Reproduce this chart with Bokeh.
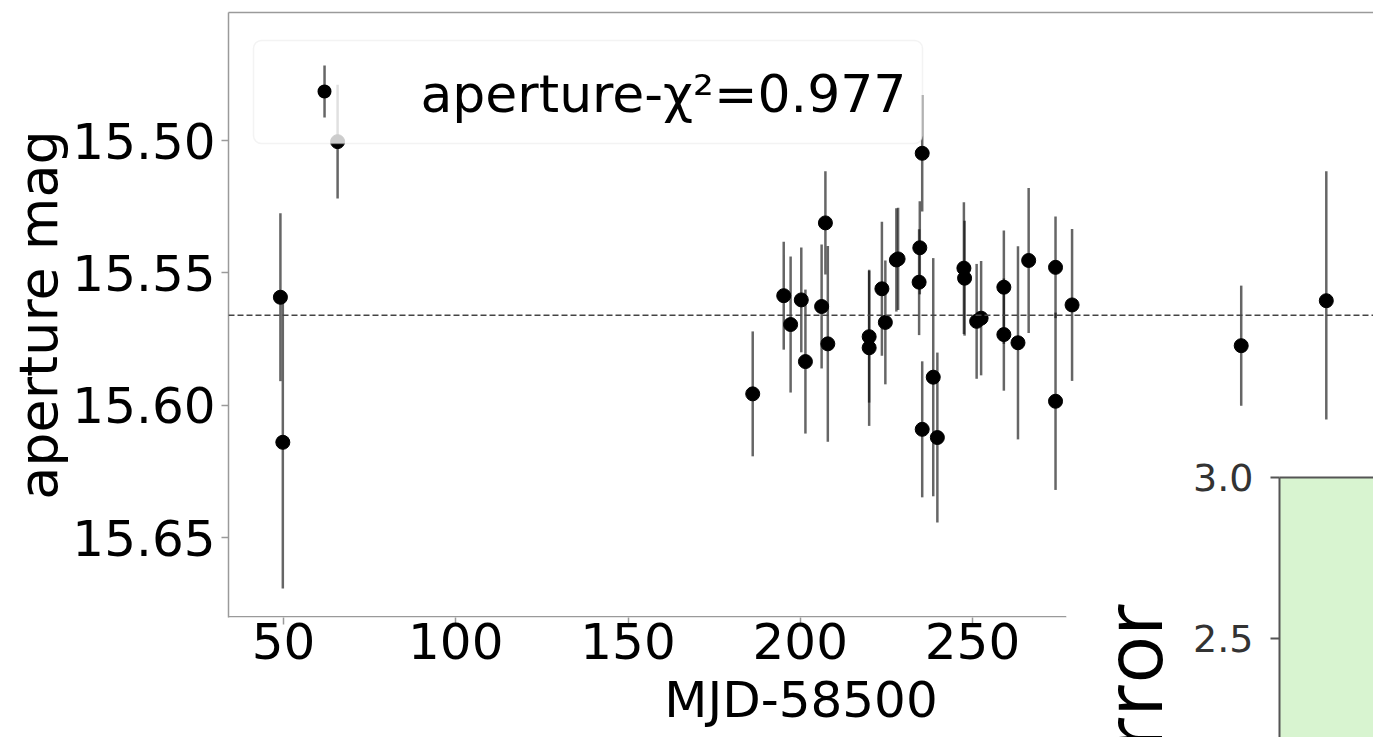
import math
from bokeh.plotting import figure
from bokeh.layouts import column
from bokeh.models import (ColumnDataSource, Range1d, FixedTicker, Span, BoxAnnotation,
                          Label, LinearAxis, PrintfTickFormatter)
from bokeh.embed import file_html
from bokeh.resources import INLINE

# ---------------- data ----------------
mjd = [49.1, 49.8, 65.7, 186.2, 195.2, 197.2, 200.3, 201.5, 206.2, 207.3,
       208.0, 220.0, 220.0, 223.7, 224.7, 227.9, 228.4, 235.4, 234.7, 234.5,
       235.4, 238.6, 239.8, 247.5, 247.7, 251.2, 252.5, 259.1, 259.1, 263.2,
       266.3, 274.1, 274.1, 278.9, 328.0, 352.7]
mag = [15.5592, 15.6140, 15.5004, 15.5957, 15.5586, 15.5695, 15.5602, 15.5835, 15.5627, 15.5311,
       15.5768, 15.5741, 15.5783, 15.5560, 15.5687, 15.5451, 15.5447, 15.5048, 15.5405, 15.5535,
       15.6091, 15.5894, 15.6122, 15.5482, 15.5520, 15.5683, 15.5671, 15.5554, 15.5733, 15.5764,
       15.5453, 15.5479, 15.5985, 15.5621, 15.5775, 15.5605]
mag_err = [0.0317, 0.0552, 0.0215, 0.0236, 0.0204, 0.0257, 0.0198, 0.0272, 0.0234, 0.0195,
           0.0370, 0.0249, 0.0295, 0.0253, 0.0234, 0.0195, 0.0193, 0.0220, 0.0176, 0.0200,
           0.0257, 0.0450, 0.0321, 0.0249, 0.0217, 0.0217, 0.0216, 0.0214, 0.0212, 0.0365,
           0.0274, 0.0192, 0.0335, 0.0287, 0.0227, 0.0489]
mean_mag = 15.566
legend_label = "aperture-\u03c7\u00b2=0.977"
x_ticks = [50, 100, 150, 200, 250]
y_ticks = [15.50, 15.55, 15.60, 15.65]
x_title = "MJD-58500"
y_title = "aperture mag"
inset_title = "error"
inset_ticks = [2.5, 3.0]

# ---------------- main figure ----------------
FONT = "DejaVu Sans"
SPINE = "#9a9a9a"

p = figure(width=1373, height=737,
           x_range=Range1d(34.03, 366.40), y_range=Range1d(15.6802, 15.4516),
           output_backend="svg", toolbar_location=None,
           min_border_left=228, min_border_right=0, min_border_top=12, min_border_bottom=120)
p.outline_line_color = None
p.xgrid.visible = False
p.ygrid.visible = False
p.background_fill_color = "white"
p.border_fill_color = "white"

for ax in (p.xaxis[0], p.yaxis[0]):
    ax.axis_line_color = SPINE
    ax.axis_line_width = 1.5
    ax.major_tick_line_color = SPINE
    ax.major_tick_line_width = 1.5
    ax.major_tick_out = 7
    ax.major_tick_in = 0
    ax.minor_tick_line_color = None
    ax.major_label_text_font = FONT
    ax.major_label_text_color = "black"
    ax.axis_label_text_font = FONT
    ax.axis_label_text_font_style = "normal"
    ax.axis_label_text_color = "black"

p.xaxis.ticker = FixedTicker(ticks=x_ticks)
p.xaxis.axis_line_color = None          # bottom spine drawn below, stopping at the inset
p.xaxis.major_label_text_font_size = "50px"
p.xaxis.major_label_standoff = -2
p.xaxis.axis_label = x_title
p.xaxis.axis_label_text_font_size = "50px"
p.xaxis.axis_label_standoff = 9

p.yaxis.ticker = FixedTicker(ticks=y_ticks)
p.yaxis.formatter = PrintfTickFormatter(format="%.2f")
p.yaxis.major_label_text_font_size = "50px"
p.yaxis.major_label_standoff = 6
p.yaxis.axis_label = y_title
p.yaxis.axis_label_text_font_size = "54px"
p.yaxis.axis_label_standoff = -1

top_axis = LinearAxis(ticker=FixedTicker(ticks=[]), major_label_text_font_size="0px",
                      major_tick_out=0, major_tick_in=0, minor_tick_out=0, minor_tick_in=0,
                      major_label_standoff=0, axis_line_color=SPINE, axis_line_width=1.5)
p.add_layout(top_axis, "above")

# ---------------- data marks ----------------
src = ColumnDataSource(dict(
    x=mjd, y=mag,
    lo=[m - e for m, e in zip(mag, mag_err)],
    hi=[m + e for m, e in zip(mag, mag_err)],
))
p.segment(x0="x", y0="lo", x1="x", y1="hi", source=src,
          line_color="black", line_alpha=0.6, line_width=2.5)
p.scatter(x="x", y="y", source=src, size=14, fill_color="black", line_color="black")

p.add_layout(Span(location=mean_mag, dimension="width", line_color="#444444",
                  line_width=1.5, line_dash="6 3"))

# screen helpers (frame origin bottom-left: page x 228, page y 617)
def sx(px):
    return px - 228

def sy(py):
    return 617 - py

def sbox(l, r, t, b, **kw):
    return BoxAnnotation(left=sx(l), right=sx(r), top=sy(t), bottom=sy(b),
                         left_units="screen", right_units="screen",
                         top_units="screen", bottom_units="screen", **kw)

# bottom spine, up to where the inset panel hides it
p.add_layout(sbox(227, 1066, 615.5, 617, fill_color=SPINE, fill_alpha=1.0, line_color=None))

# ---------------- legend (drawn by hand: errorbar handle) ----------------
p.add_layout(sbox(253, 922, 40, 143, fill_color="white", fill_alpha=0.8,
                  line_color="#d6d6d6", line_width=1.5, border_radius=8))
p.add_layout(sbox(322.8, 325.3, 65, 117, fill_color="black", fill_alpha=0.6, line_color=None))
p.add_layout(sbox(317, 331, 84, 98, fill_color="black", fill_alpha=1.0, line_color=None,
                  border_radius=7))
p.add_layout(Label(x=sx(420), y=sy(93), x_units="screen", y_units="screen",
                   text=legend_label, text_font=FONT, text_font_size="52px",
                   text_color="black", text_baseline="middle", text_align="left"))

# white backing of the inset panel, inside the main frame
p.add_layout(sbox(1066, 1373, 419, 617, fill_color="white", fill_alpha=1.0, line_color=None,
                  level="overlay"))

# ---------------- inset panel (partly visible, lower right) ----------------
# left border equals the main figure's (228 px) so the column does not re-align the frames
inset_h_px = 442                             # frame height (figure height 500 - top border 58)
inset_scale = 161 / 0.5                      # px per unit of the inset axis
inset = figure(width=322, height=500,
               x_range=Range1d(0, 1),
               y_range=Range1d(3.0 - inset_h_px / inset_scale, 3.0),
               x_axis_location=None, toolbar_location=None, output_backend="svg",
               min_border_left=228, min_border_top=58, min_border_right=0, min_border_bottom=0,
               styles={"position": "absolute", "left": "1051px", "top": "419px", "z-index": "5"})
inset.outline_line_color = None
inset.xgrid.visible = False
inset.ygrid.visible = False
inset.background_fill_color = "#d8f4d0"
inset.border_fill_alpha = 0.0
iy = inset.yaxis[0]
iy.ticker = FixedTicker(ticks=inset_ticks)
iy.formatter = PrintfTickFormatter(format="%.1f")
iy.axis_line_color = "#555555"
iy.axis_line_width = 2
iy.major_tick_line_color = "#555555"
iy.major_tick_line_width = 2
iy.major_tick_out = 9
iy.major_tick_in = 0
iy.minor_tick_line_color = None
iy.major_label_text_font = FONT
iy.major_label_text_font_size = "38px"
iy.major_label_text_color = "#333333"
iy.major_label_standoff = 17
iy.axis_label = inset_title
iy.axis_label_text_font = "Open Sans"
iy.axis_label_text_font_size = "80px"
iy.axis_label_text_font_style = "normal"
iy.axis_label_text_color = "black"
iy.axis_label_standoff = 5
inset_top_axis = LinearAxis(ticker=FixedTicker(ticks=[]), major_label_text_font_size="0px",
                            major_tick_out=0, major_tick_in=0, minor_tick_out=0, minor_tick_in=0,
                            major_label_standoff=0, axis_line_color="#555555", axis_line_width=2)
inset.add_layout(inset_top_axis, "above")

layout = column(p, inset, styles={"position": "relative", "overflow": "hidden"})

open("out.html", "w").write(file_html(layout, INLINE))
